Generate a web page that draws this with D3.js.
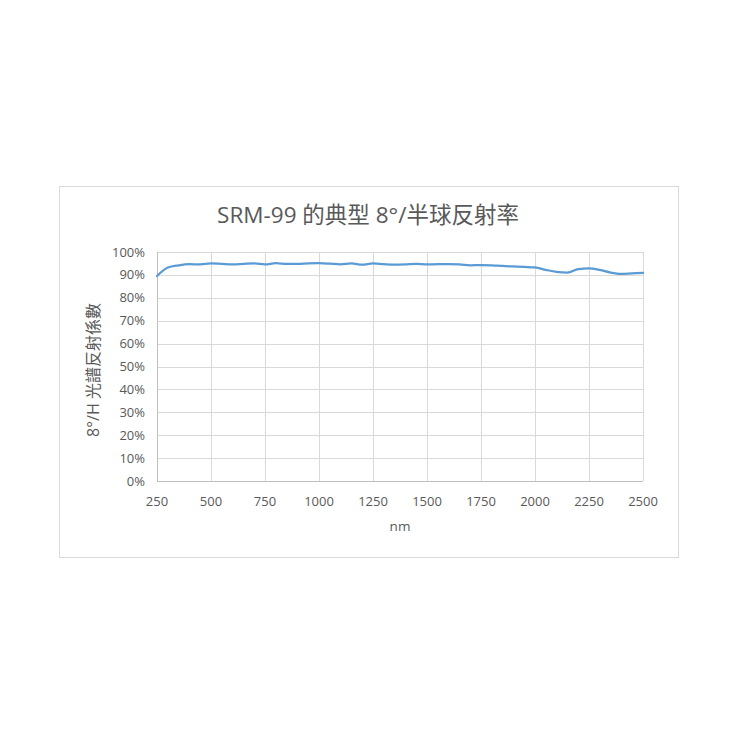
<!DOCTYPE html>
<html><head><meta charset="utf-8">
<script src="https://cdn.jsdelivr.net/npm/d3@7"></script>
<style>html,body{margin:0;padding:0;background:#fff;}</style>
</head><body>
<svg id="c" width="739" height="739"></svg>
<script>
const title = "SRM-99 的典型 8°/半球反射率";
const yLabel = "8°/H 光譜反射係數";
const xLabel = "nm";
const wavelengths = [250,300,350,400,450,500,550,600,650,700,750,800,850,900,950,1000,1050,1100,1150,1200,1250,1300,1350,1400,1450,1500,1550,1600,1650,1700,1750,1800,1850,1900,1950,2000,2050,2100,2150,2200,2250,2300,2350,2400,2450,2500];
const reflectance = [89.5,93.2,94.2,94.7,94.6,95.0,94.8,94.6,94.8,95.0,94.6,95.1,94.8,94.8,95.0,95.1,94.9,94.6,95.0,94.5,95.0,94.7,94.5,94.6,94.8,94.6,94.7,94.7,94.6,94.2,94.3,94.2,93.9,93.7,93.5,93.3,92.2,91.3,91.0,92.5,92.9,92.2,91.0,90.4,90.7,90.9];
const xTicks = [250,500,750,1000,1250,1500,1750,2000,2250,2500];
const yTicks = [0,10,20,30,40,50,60,70,80,90,100];

(function(){
const svg = d3.select("#c");
const font = "'Open Sans','Noto Sans CJK TC',sans-serif";
const textColor = "#595959";
const pLeft=157, pRight=643, pTop=252, pBottom=481;

svg.append("rect").attr("x",59.5).attr("y",186.5).attr("width",619).attr("height",371)
  .attr("fill","#fff").attr("stroke","#d9d9d9").attr("stroke-width",1);

const x = d3.scaleLinear().domain([250,2500]).range([pLeft,pRight]);
const y = d3.scaleLinear().domain([0,100]).range([pBottom,pTop]);

svg.append("g").selectAll("line").data(yTicks).join("line")
  .attr("x1",pLeft).attr("x2",pRight).attr("y1",d=>Math.round(y(d))+0.5).attr("y2",d=>Math.round(y(d))+0.5)
  .attr("stroke","#d9d9d9").attr("stroke-width",1);
svg.append("g").selectAll("line").data(xTicks).join("line")
  .attr("x1",d=>Math.round(x(d))+0.5).attr("x2",d=>Math.round(x(d))+0.5).attr("y1",pTop).attr("y2",pBottom)
  .attr("stroke","#d9d9d9").attr("stroke-width",1);
svg.append("line").attr("x1",pLeft).attr("x2",pRight).attr("y1",pBottom+0.5).attr("y2",pBottom+0.5)
  .attr("stroke","#bfbfbf").attr("stroke-width",1);
svg.append("line").attr("x1",pLeft+0.5).attr("x2",pLeft+0.5).attr("y1",pTop).attr("y2",pBottom)
  .attr("stroke","#bfbfbf").attr("stroke-width",1);

svg.append("g").selectAll("text").data(yTicks).join("text")
  .attr("x",pLeft-12).attr("y",d=>y(d)).attr("dy","0.35em").attr("text-anchor","end")
  .attr("font-family",font).attr("font-size",13).attr("fill",textColor)
  .text(d=>d+"%");
svg.append("g").selectAll("text").data(xTicks).join("text")
  .attr("x",d=>x(d)).attr("y",pBottom+20).attr("dy","0.35em").attr("text-anchor","middle")
  .attr("font-family",font).attr("font-size",13).attr("fill",textColor)
  .text(d=>d);

const line = d3.line().x((d,i)=>x(wavelengths[i])).y(d=>y(d)).curve(d3.curveMonotoneX);
svg.append("path").datum(reflectance).attr("d",line)
  .attr("fill","none").attr("stroke","#5b9bd5").attr("stroke-width",2.25)
  .attr("stroke-linejoin","round").attr("stroke-linecap","round");

svg.append("text").attr("x",368).attr("y",215).attr("dy","0.35em").attr("text-anchor","middle")
  .attr("font-family",font).attr("font-size",22.5).attr("fill",textColor).text(title);
svg.append("text").attr("x",400).attr("y",526).attr("dy","0.35em").attr("text-anchor","middle")
  .attr("font-family",font).attr("font-size",13.5).attr("fill",textColor).text(xLabel);
svg.append("text").attr("transform","translate(93,370) rotate(-90)").attr("dy","0.35em").attr("text-anchor","middle")
  .attr("font-family",font).attr("font-size",16).attr("fill",textColor).text(yLabel);
})();
</script>
</body></html>
